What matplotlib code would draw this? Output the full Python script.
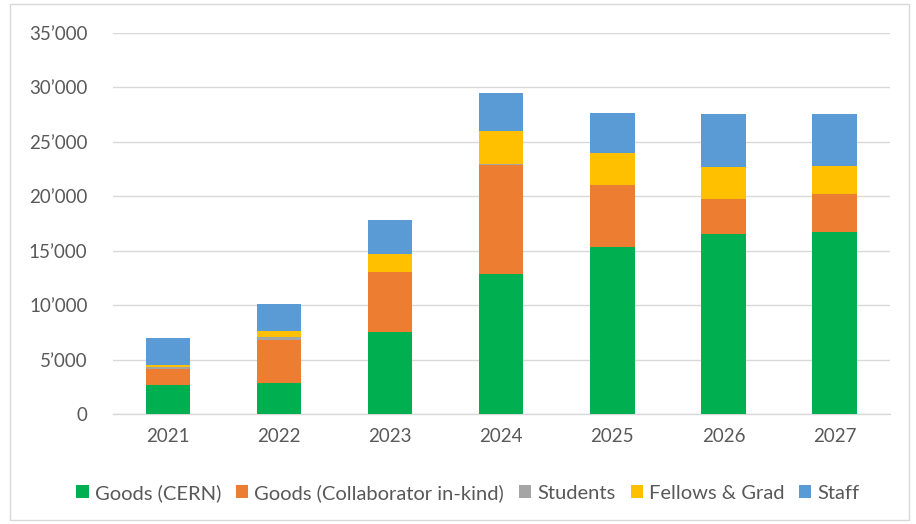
import matplotlib
matplotlib.use("Agg")
import matplotlib.pyplot as plt
from matplotlib.ticker import FuncFormatter
from matplotlib.patches import Rectangle
import numpy as np

plt.rcParams['font.family'] = ['Lato', 'DejaVu Sans']

years = ["2021", "2022", "2023", "2024", "2025", "2026", "2027"]
goods_cern = [2650, 2840, 7540, 12880, 15320, 16510, 16700]
goods_collab = [1500, 3980, 5470, 9990, 5700, 3230, 3500]
students = [180, 270, 50, 50, 50, 50, 50]
fellows_grad = [180, 520, 1680, 3080, 2870, 2870, 2500]
staff = [2490, 2480, 3080, 3450, 3710, 4860, 4770]

series = [
    ("Goods (CERN)", goods_cern, "#00B050"),
    ("Goods (Collaborator in-kind)", goods_collab, "#ED7D31"),
    ("Students", students, "#A5A5A5"),
    ("Fellows & Grad", fellows_grad, "#FFC000"),
    ("Staff", staff, "#5B9BD5"),
]

fig = plt.figure(figsize=(9.16, 5.24), dpi=100)
ax = fig.add_axes([112.5/916, 110/524, (890-112.5)/916, 381/524])

x = np.arange(len(years))
bottom = np.zeros(len(years))
handles = []
for name, vals, col in series:
    b = ax.bar(x, vals, width=0.40, bottom=bottom, color=col, label=name, zorder=3)
    handles.append(b)
    bottom += np.array(vals)

ax.set_xlim(-0.5, len(years) - 0.5)
ax.set_ylim(0, 35000)
ax.set_yticks(np.arange(0, 35001, 5000))
ax.yaxis.set_major_formatter(FuncFormatter(lambda v, p: "0" if v == 0 else f"{int(v)//1000}\u2019{int(v)%1000:03d}"))
ax.set_xticks(x)
ax.set_xticklabels(years)
ax.grid(axis='y', color='#d9d9d9', linewidth=1.0, zorder=0)
for s in ['top', 'right', 'left']:
    ax.spines[s].set_visible(False)
ax.spines['bottom'].set_color('#d9d9d9')
ax.spines['bottom'].set_linewidth(1.0)
ax.tick_params(axis='both', length=0, labelsize=13.5, colors='#595959', pad=10)
ax.tick_params(axis='y', pad=18)

fig.legend(handles=handles, labels=[s[0] for s in series], loc='center',
           bbox_to_anchor=(468/916, 1 - 493/524), ncol=5, frameon=False,
           fontsize=14.5, labelcolor='#595959', handlelength=0.6, handleheight=0.6,
           handletextpad=0.3, columnspacing=0.75)

fig.patches.append(Rectangle((10/916, 4/524), 899/916, 516/524, transform=fig.transFigure,
                             fill=False, edgecolor='#d9d9d9', linewidth=1.0))

fig.savefig("out.png", dpi=100)
